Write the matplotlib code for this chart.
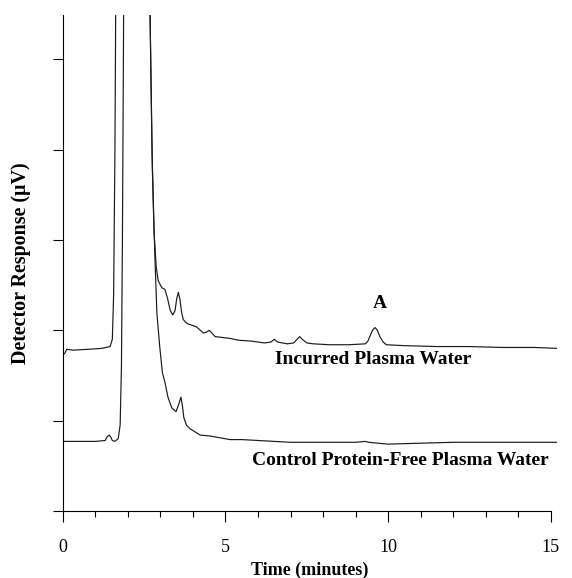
#!/usr/bin/env python3
import matplotlib
matplotlib.use("Agg")
import matplotlib.pyplot as plt
from matplotlib.ticker import MultipleLocator, NullFormatter

# Incurred plasma water trace (time in minutes, detector response)
incurred_time = [0.0, 0.05, 0.12, 0.3, 0.8, 1.2, 1.45, 1.52, 1.56, 1.6, 1.63,
                 1.66, 1.75, 2.1, 2.45, 2.62, 2.68, 2.74, 2.8, 2.87, 2.93, 3.0,
                 3.05, 3.14, 3.22, 3.3, 3.38, 3.45, 3.5, 3.55, 3.6, 3.65, 3.7,
                 3.77, 3.85, 4.1, 4.32, 4.42, 4.5, 4.58, 4.68, 5.14, 5.4, 5.8,
                 6.2, 6.4, 6.5, 6.6, 6.9, 7.1, 7.2, 7.28, 7.36, 7.5, 7.7, 8.2,
                 8.8, 9.3, 9.38, 9.45, 9.52, 9.6, 9.67, 9.75, 9.85, 9.95, 10.5,
                 11.5, 12.5, 13.5, 14.5, 15.2]
incurred_resp = [1.74, 1.74, 1.79, 1.78, 1.79, 1.80, 1.82, 1.90, 2.4, 4.0, 6.0,
                 12.0, 25.0, 40.0, 25.0, 8.0, 5.5, 4.0, 3.1, 2.7, 2.55, 2.5,
                 2.47, 2.45, 2.35, 2.22, 2.17, 2.22, 2.35, 2.42, 2.34, 2.2, 2.12,
                 2.09, 2.07, 2.04, 1.97, 1.98, 2.0, 1.97, 1.93, 1.91, 1.89, 1.88,
                 1.86, 1.87, 1.9, 1.87, 1.85, 1.86, 1.9, 1.93, 1.9, 1.86, 1.85,
                 1.84, 1.84, 1.85, 1.88, 1.94, 2.0, 2.03, 2.0, 1.93, 1.87, 1.84,
                 1.83, 1.82, 1.82, 1.81, 1.81, 1.80]

# Control protein-free plasma water trace
control_time = [0.0, 0.5, 1.0, 1.3, 1.36, 1.42, 1.47, 1.52, 1.6, 1.7, 1.76,
                1.8, 1.83, 1.86, 1.9, 2.0, 2.25, 2.5, 2.62, 2.68, 2.75, 2.83,
                2.89, 2.98, 3.06, 3.14, 3.23, 3.35, 3.48, 3.56, 3.63, 3.68,
                3.72, 3.8, 3.91, 4.22, 4.52, 5.14, 5.5, 6.0, 7.0, 8.0, 9.0,
                9.3, 9.4, 10.0, 11.0, 12.0, 13.0, 14.0, 15.2]
control_resp = [0.77, 0.77, 0.77, 0.78, 0.82, 0.84, 0.82, 0.78, 0.77, 0.80,
                0.95, 1.6, 3.0, 5.0, 8.0, 20.0, 40.0, 20.0, 8.0, 5.5, 3.8,
                2.8, 2.19, 1.81, 1.53, 1.42, 1.26, 1.14, 1.10, 1.18, 1.26,
                1.15, 1.03, 0.95, 0.91, 0.84, 0.83, 0.79, 0.79, 0.78, 0.76,
                0.76, 0.76, 0.77, 0.76, 0.74, 0.75, 0.76, 0.76, 0.76, 0.76]

x_ticks = [0, 5, 10, 15]
x_tick_labels = ["0", "5", "10", "15"]

plt.rcParams["font.family"] = ["Liberation Serif", "DejaVu Serif"]

fig = plt.figure(figsize=(5.72, 5.78), dpi=100)
ax = fig.add_axes([0.110, 0.116, 0.864, 0.858])

line_kw = dict(color="#1a1a1a", linewidth=0.85)
ax.plot(incurred_time, incurred_resp, **line_kw)
ax.plot(control_time, control_resp, **line_kw)

ax.set_xlim(0, 15.2)
ax.set_ylim(0, 5.49)

ax.spines["top"].set_visible(False)
ax.spines["right"].set_visible(False)
ax.spines["bottom"].set_bounds(0, 15)
for side in ("left", "bottom"):
    ax.spines[side].set_linewidth(0.8)

ax.set_xticks(x_ticks)
ax.set_xticklabels(x_tick_labels)
ax.xaxis.set_minor_locator(MultipleLocator(1))
ax.yaxis.set_major_locator(MultipleLocator(1))
ax.yaxis.set_major_formatter(NullFormatter())
ax.tick_params(axis="x", which="major", length=8, width=0.8, pad=12,
               labelsize=13)
ax.tick_params(axis="x", which="minor", length=4.5, width=0.8)
ax.tick_params(axis="y", which="major", length=7.5, width=0.8)

ax.set_xlabel("Time (minutes)", fontsize=13, fontweight="bold", labelpad=4)
ax.set_ylabel("Detector Response (\u00b5V)", fontsize=14.4, fontweight="bold",
              labelpad=12)

ax.text(9.75, 2.3, "A", ha="center", va="center", fontsize=14,
        fontweight="bold")
ax.text(9.55, 1.68, "Incurred Plasma Water", ha="center", va="center",
        fontsize=14, fontweight="bold")
ax.text(10.37, 0.56, "Control Protein-Free Plasma Water", ha="center",
        va="center", fontsize=14, fontweight="bold")

fig.savefig("out.png", dpi=100)
